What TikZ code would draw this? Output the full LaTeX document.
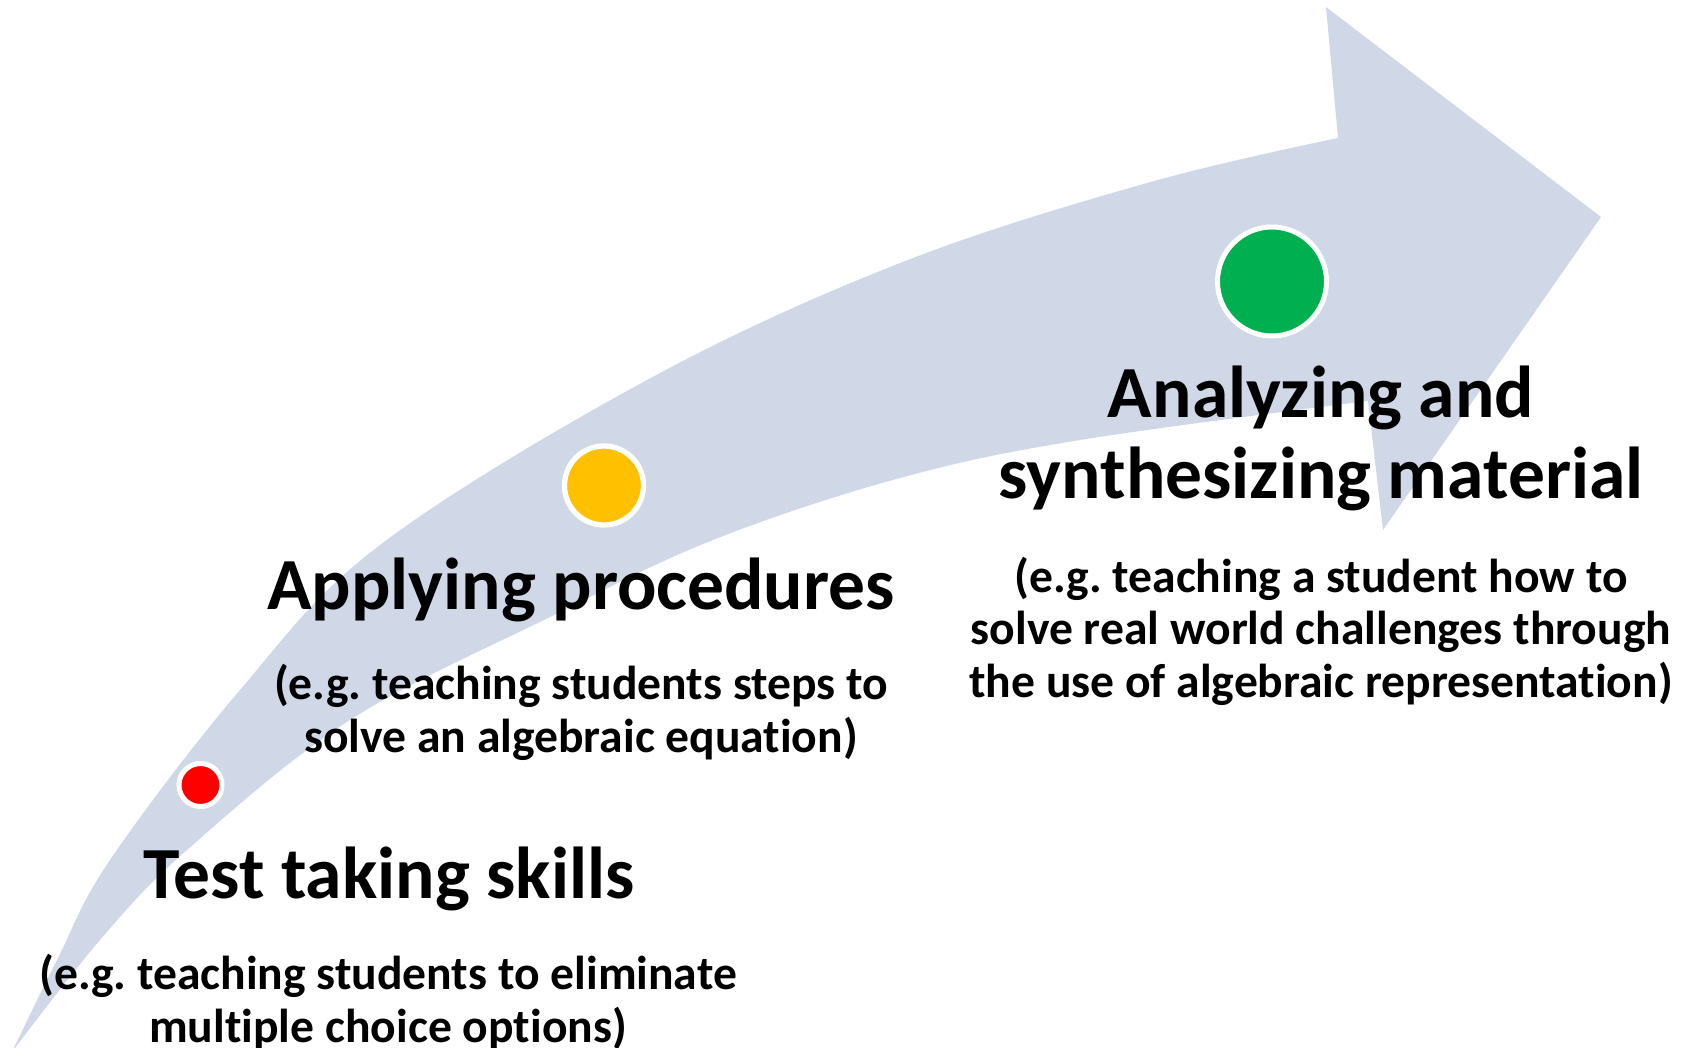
\documentclass[tikz,border=0pt]{standalone}
\usepackage{fontspec}
\setmainfont{Carlito}[Ligatures=NoCommon]
\frenchspacing
\definecolor{arrowfill}{HTML}{D0D8E8}
\definecolor{dotred}{HTML}{FF0000}
\definecolor{dotyellow}{HTML}{FFC000}
\definecolor{dotgreen}{HTML}{00B050}
\tikzset{
  head/.style={inner sep=0pt, align=center, anchor=base, font=\fontsize{73.5}{80.7}\selectfont\bfseries\frenchspacing},
  sub/.style={inner sep=0pt, align=center, anchor=base, font=\fontsize{47.6}{52.3}\selectfont\bfseries\frenchspacing},
  dot/.style={circle, draw=white, inner sep=0pt}
}
\begin{document}
\begin{tikzpicture}[x=1pt,y=-1pt]
\useasboundingbox (0,0) rectangle (1694,1048);
% curved arrow
\fill[arrowfill] plot[smooth, tension=0.6] coordinates {(12,1052) (57,960) (110,860) (240,690) (380,545) (647,380) (900,263) (1147,183) (1338,138)}
  -- (1326,7) -- (1601,217) -- (1383,530) -- (1368,401)
  -- plot[smooth, tension=0.6] coordinates {(1368,401) (1080,440) (900,478) (713,540) (550,617) (350,720) (187,850) (100,940) (12,1052)}
  -- cycle;
% dots
\node[dot, fill=dotred, minimum size=43pt, line width=5pt] (red) at (200.5,785) {};
\node[dot, fill=dotyellow, minimum size=79pt, line width=5.3pt] (yellow) at (604,485.5) {};
\node[dot, fill=dotgreen, minimum size=109pt, line width=5pt] (green) at (1272,281.5) {};
% texts (base anchor = baseline of the last line)
\node[head] (h1) at (389,898) {Test taking skills};
\node[sub] (s1) at (388,1042) {(e.g. teaching students to eliminate\\multiple choice options)};
\node[head] (h2) at (581,609) {Applying procedures};
\node[sub] (s2) at (581,752) {(e.g. teaching students steps to\\solve an algebraic equation)};
\node[head] (h3) at (1321,498) {Analyzing and\\synthesizing material};
\node[sub] (s3) at (1321,697) {(e.g. teaching a student how to\\solve real world challenges through\\the use of algebraic representation)};
\end{tikzpicture}
\end{document}
